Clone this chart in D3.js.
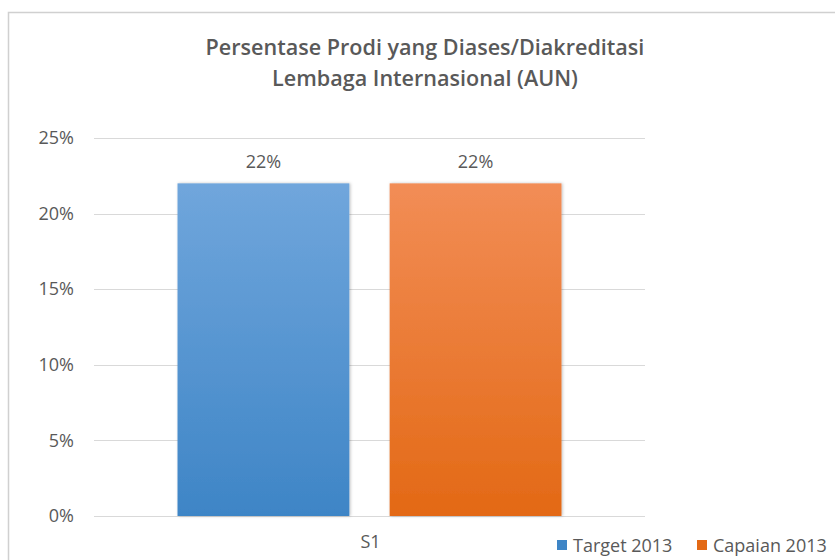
<!DOCTYPE html>
<html>
<head>
<meta charset="utf-8">
<script src="https://cdn.jsdelivr.net/npm/d3@7"></script>
<style>
  body { margin: 0; background: #fff; }
  text { font-family: "Open Sans", "Noto Sans", sans-serif; fill: #595959; }
</style>
</head>
<body>
<div id="chart"></div>
<script>
// data
var categories = ["S1"];
var seriesNames = ["Target 2013", "Capaian 2013"];
var target2013 = [0.22];
var capaian2013 = [0.22];
var yTicks = [0, 0.05, 0.10, 0.15, 0.20, 0.25];
var titleLines = ["Persentase Prodi yang Diases/Diakreditasi", "Lembaga Internasional (AUN)"];

var width = 835, height = 560;
var margin = {top: 138, left: 94, right: 190, bottom: 44};

var svg = d3.select("#chart").append("svg")
    .attr("width", width)
    .attr("height", height);

var defs = svg.append("defs");
var grads = [["#70a6dc", "#3e85c6"], ["#f28d56", "#e36915"]];
grads.forEach(function(g, i) {
  var lg = defs.append("linearGradient").attr("id", "g" + i)
      .attr("x1", 0).attr("y1", 0).attr("x2", 0).attr("y2", 1);
  lg.append("stop").attr("offset", "0%").attr("stop-color", g[0]);
  lg.append("stop").attr("offset", "100%").attr("stop-color", g[1]);
});
var f = defs.append("filter").attr("id", "shadow")
    .attr("x", "-10%").attr("y", "-10%").attr("width", "130%").attr("height", "130%");
f.append("feDropShadow").attr("dx", 1).attr("dy", 0).attr("stdDeviation", 1.5)
    .attr("flood-color", "#000").attr("flood-opacity", 0.25);

// outer frame
svg.append("rect")
    .attr("x", 8.5).attr("y", 12.5)
    .attr("width", width + 10).attr("height", height + 10)
    .attr("fill", "none").attr("stroke", "#d0d0d0").attr("stroke-width", 1.5);

var plotW = width - margin.left - margin.right;
var plotH = 516 - margin.top;

var g = svg.append("g").attr("transform", "translate(" + margin.left + "," + margin.top + ")");

var y = d3.scaleLinear().domain([0, 0.25]).range([plotH, 0]);
var x0 = d3.scaleBand().domain(categories).range([0, plotW]).paddingInner(0).paddingOuter(0.2175);
var x1 = d3.scaleBand().domain(seriesNames).range([0, x0.bandwidth()]).paddingInner(0.19);

// gridlines
g.selectAll(".grid").data(yTicks).enter().append("line")
    .attr("x1", 0).attr("x2", plotW)
    .attr("y1", function(d) { return Math.round(y(d)) + 0.5; })
    .attr("y2", function(d) { return Math.round(y(d)) + 0.5; })
    .attr("stroke", "#d9d9d9").attr("stroke-width", 1.2);

var yAxis = d3.axisLeft(y).tickValues(yTicks).tickFormat(d3.format(".0%")).tickSize(0).tickPadding(20);
g.append("g").call(yAxis)
  .call(function(a) { a.select(".domain").remove(); })
  .selectAll("text")
    .style("font-size", "18px").style("fill", "#595959")
    .style("font-family", "'Open Sans', sans-serif");

var rows = categories.map(function(c, i) {
  return {cat: c, values: [target2013[i], capaian2013[i]]};
});

var groups = g.selectAll(".cat").data(rows).enter().append("g")
    .attr("transform", function(d) { return "translate(" + x0(d.cat) + ",0)"; });

groups.selectAll("rect").data(function(d) {
  return d.values.map(function(v, i) { return {name: seriesNames[i], v: v, i: i}; });
}).enter().append("rect")
    .attr("x", function(d) { return x1(d.name); })
    .attr("y", function(d) { return y(d.v); })
    .attr("width", x1.bandwidth())
    .attr("height", function(d) { return plotH - y(d.v); })
    .attr("fill", function(d) { return "url(#g" + d.i + ")"; })
    .attr("filter", "url(#shadow)");

groups.selectAll(".lbl").data(function(d) {
  return d.values.map(function(v, i) { return {name: seriesNames[i], v: v}; });
}).enter().append("text")
    .attr("x", function(d) { return x1(d.name) + x1.bandwidth() / 2; })
    .attr("y", function(d) { return y(d.v) - 15; })
    .attr("text-anchor", "middle")
    .style("font-size", "18px")
    .text(function(d) { return d3.format(".0%")(d.v); });

// category label
g.selectAll(".catlbl").data(categories).enter().append("text")
    .attr("x", function(d) { return x0(d) + x0.bandwidth() / 2 + 1; })
    .attr("y", 548 - margin.top)
    .attr("text-anchor", "middle")
    .style("font-size", "18px")
    .text(function(d) { return d; });

// title
var title = svg.append("g");
titleLines.forEach(function(t, i) {
  var tx = title.append("text")
      .attr("x", 425).attr("y", 55 + i * 31)
      .attr("text-anchor", "middle")
      .style("font-size", "20px").style("font-weight", "600")
      .text(t);
  if (i === 0) {
    var w = tx.node().getComputedTextLength();
    title.attr("data-scale", 439 / w);
  }
});
var s = +title.attr("data-scale");
title.selectAll("text").style("font-size", (20 * s) + "px");

// legend
var legendX = [557, 697];
var leg = svg.selectAll(".leg").data(seriesNames).enter().append("g")
    .attr("transform", function(d, i) { return "translate(" + legendX[i] + ",540)"; });
leg.append("rect").attr("width", 10).attr("height", 10)
    .attr("fill", function(d, i) { return grads[i][1]; });
leg.append("text").attr("x", 16).attr("y", 12)
    .style("font-size", "18px")
    .text(function(d) { return d; });
</script>
</body>
</html>
